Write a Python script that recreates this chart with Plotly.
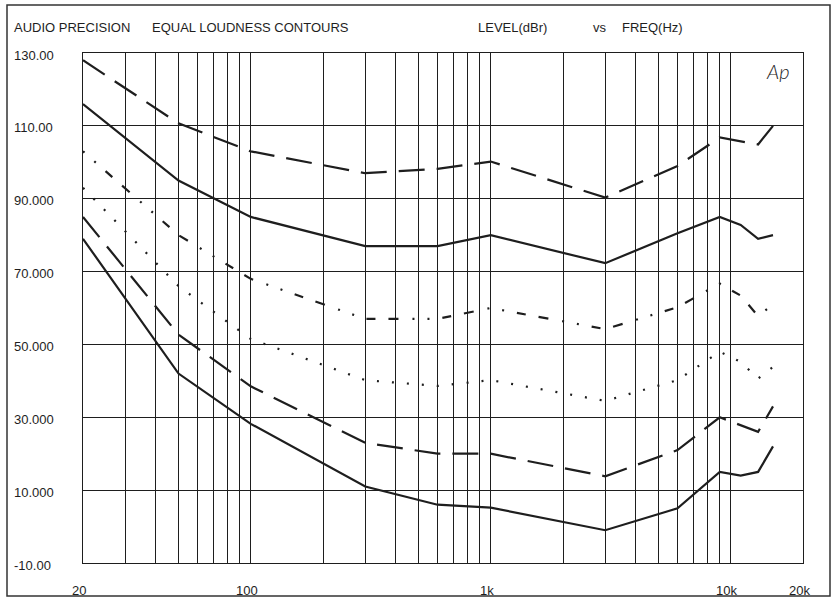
import math
import plotly.graph_objects as go

# ---------------- data ----------------
freqs = [20, 50, 100, 300, 600, 1000, 3000, 6000, 9000, 11000, 13000, 15000]

contour_top_dash = [128, 110.7, 103, 97, 98.2, 100.2, 90.3, 99, 106.8, 105.7, 104.9, 110]
contour_upper_solid = [116, 95, 85, 77, 77, 80, 72.3, 80.5, 85, 82.8, 79, 80]
contour_dash_dot = [103, 80, 68, 57, 57, 60, 54.2, 60.2, 66.7, 63.4, 57.8, 61]
contour_dotted = [93, 66, 51.5, 40.2, 38.6, 40.2, 34.5, 40.2, 48, 45.2, 40.6, 43.8]
contour_lower_dash = [85, 52.7, 38.5, 23, 20, 20, 13.8, 21, 30, 27.7, 26, 33]
contour_bottom_solid = [79, 42, 28.2, 11, 6, 5.2, -1, 5, 15, 14, 15, 22]

y_tick_values = [130, 110, 90, 70, 50, 30, 10, -10]
y_tick_labels = ["130.00", "110.00", "90.000", "70.000", "50.000", "30.000", "10.000", "-10.00"]

x_label_values = [20, 100, 1000, 10000, 20000]
x_label_texts = ["20", "100", "1k", "10k", "20k"]
x_grid = [30, 40, 50, 60, 70, 80, 90, 100,
          200, 300, 400, 500, 600, 700, 800, 900, 1000,
          2000, 3000, 4000, 5000, 6000, 7000, 8000, 9000, 10000]

title_left = "AUDIO PRECISION"
title_mid = "EQUAL LOUDNESS CONTOURS"
title_y = "LEVEL(dBr)"
title_vs = "vs"
title_x = "FREQ(Hz)"

# ---------------- figure ----------------
W, H = 832, 598
L, R, T, B = 83, 29, 53, 35
PW, PH = W - L - R, H - T - B
INK = "#1e1e1e"
FONT = "Liberation Sans, Arial, sans-serif"


def px_x(p):
    return (p - L) / PW


def px_y(p):
    return (H - B - p) / PH


series = [
    (contour_top_dash, "26px,12px"),
    (contour_upper_solid, "solid"),
    (contour_dash_dot, "2px,13px,2px,13px,9px,13px,10px,14px"),
    (contour_dotted, "2px,13px"),
    (contour_lower_dash, "26px,12px"),
    (contour_bottom_solid, "solid"),
]

fig = go.Figure()
for vals, dash in series:
    fig.add_trace(go.Scatter(
        x=freqs, y=vals, mode="lines",
        line=dict(color=INK, width=2.2, dash=dash),
        showlegend=False, hoverinfo="skip",
    ))

fig.update_xaxes(
    type="log",
    range=[math.log10(20), math.log10(20000)],
    tickvals=x_grid, showticklabels=False, ticks="",
    showgrid=True, gridcolor=INK, gridwidth=1,
    showline=True, mirror=True, linecolor=INK, linewidth=1,
    zeroline=False, fixedrange=True, automargin=False,
)
fig.update_yaxes(
    range=[-10, 130],
    tickvals=y_tick_values, showticklabels=False, ticks="",
    showgrid=True, gridcolor=INK, gridwidth=1,
    showline=True, mirror=True, linecolor=INK, linewidth=1,
    zeroline=False, fixedrange=True, automargin=False,
)

annotations = []
for v, t in zip(y_tick_values, y_tick_labels):
    annotations.append(dict(
        text=t, xref="paper", yref="y", x=px_x(12), y=v, yshift=-2,
        xanchor="left", yanchor="middle", showarrow=False,
        font=dict(family=FONT, size=13, color=INK),
    ))

for v, t in zip(x_label_values, x_label_texts):
    annotations.append(dict(
        text=t, xref="x", yref="paper", x=math.log10(v), y=px_y(590), xshift=-4,
        xanchor="center", yanchor="middle", showarrow=False,
        font=dict(family=FONT, size=13, color=INK),
    ))

for txt, xp in [(title_left, 12), (title_mid, 150), (title_y, 476), (title_vs, 591), (title_x, 620)]:
    annotations.append(dict(
        text=txt, xref="paper", yref="paper", x=px_x(xp), y=px_y(28),
        xanchor="left", yanchor="middle", showarrow=False,
        font=dict(family=FONT, size=13, color=INK),
    ))

annotations.append(dict(
    text="<i>Ap</i>", xref="paper", yref="paper", x=px_x(778), y=px_y(71),
    xanchor="center", yanchor="middle", showarrow=False,
    font=dict(family="Lato, DejaVu Sans, sans-serif", size=20, color=INK, weight=300),
))

fig.update_layout(
    width=W, height=H,
    margin=dict(l=L, r=R, t=T, b=B, pad=0, autoexpand=False),
    paper_bgcolor="white", plot_bgcolor="white",
    annotations=annotations,
    shapes=[dict(
        type="rect", xref="paper", yref="paper",
        x0=px_x(7), x1=px_x(830), y0=px_y(596), y1=px_y(5),
        line=dict(color="#333333", width=1.5), layer="above",
    )],
)

fig.write_html(
    "out.html",
    config={"displayModeBar": False},
    post_script="document.body.style.margin='0';document.body.style.overflow='hidden';",
)
